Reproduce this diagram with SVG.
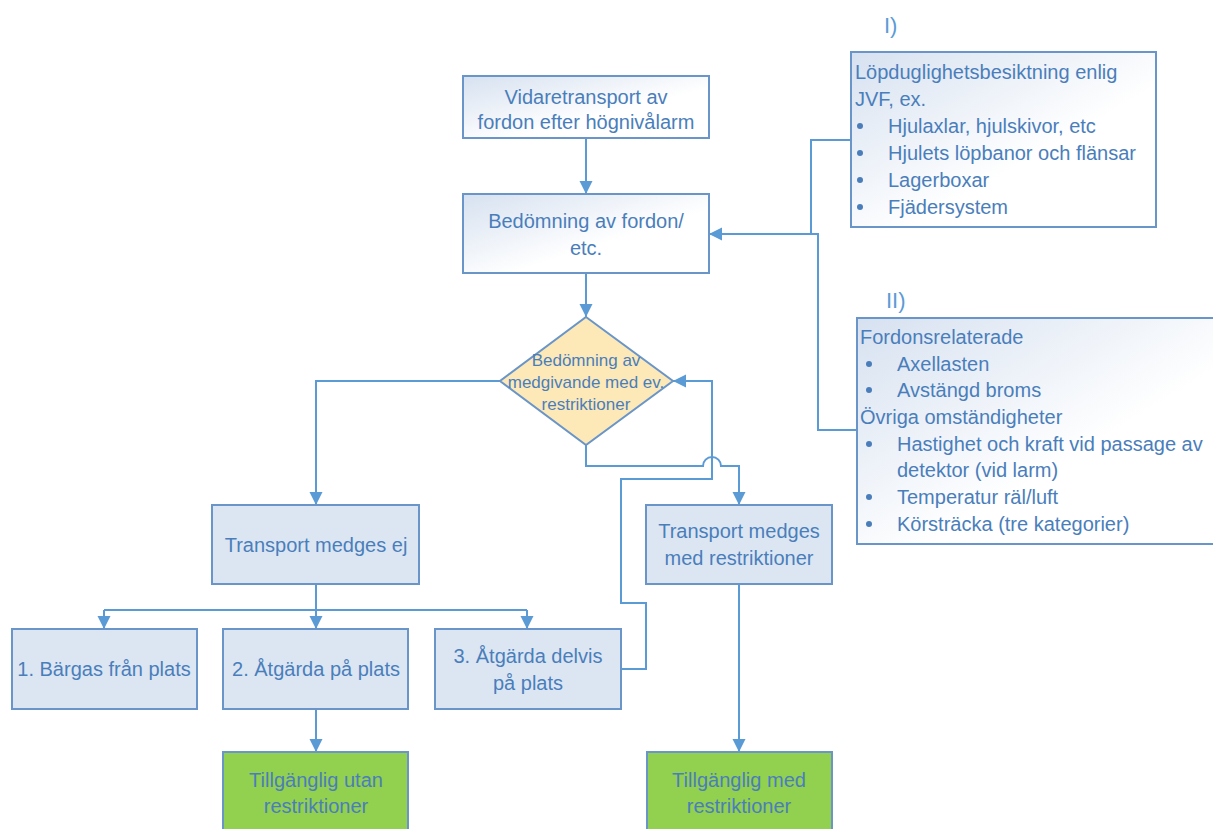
<svg xmlns="http://www.w3.org/2000/svg" width="1213" height="829" viewBox="0 0 1213 829">
<defs>
<linearGradient id="gr" x1="0" y1="0" x2="1" y2="1">
<stop offset="0" stop-color="#D6E1F0"/>
<stop offset="0.6" stop-color="#FFFFFF"/>
</linearGradient>
<marker id="ah" markerUnits="userSpaceOnUse" markerWidth="14" markerHeight="14" refX="13" refY="6.5" orient="auto">
<path d="M0,0 L13,6.5 L0,13 z" fill="#5B9BD5"/>
</marker>
<style>
.t{font-family:"Liberation Sans",Arial,sans-serif;font-size:20px;fill:#4A7EBB;text-anchor:middle}
.l{font-family:"Liberation Sans",Arial,sans-serif;font-size:20px;fill:#4A7EBB}
.d{font-family:"Liberation Sans",Arial,sans-serif;font-size:17px;fill:#4A7EBB;text-anchor:middle}
.h{font-family:"Liberation Sans",Arial,sans-serif;font-size:22px;fill:#5B9BD5}
.g{fill:url(#gr);stroke:#6A95C8;stroke-width:2}
.b{fill:#DCE6F2;stroke:#6A95C8;stroke-width:2}
.gn{fill:#92D050;stroke:#6A95C8;stroke-width:2}
.c{fill:none;stroke:#5B9BD5;stroke-width:2}
.bu{fill:#4A7EBB}
</style>
</defs>
<rect width="1213" height="829" fill="#FFFFFF"/>
<g id="connectors">
<path class="c" d="M586,138 V194" marker-end="url(#ah)"/>
<path class="c" d="M586,273 V317" marker-end="url(#ah)"/>
<path class="c" d="M851,140 H811 V234"/>
<path class="c" d="M857,430 H818 V234 H709" marker-end="url(#ah)"/>
<path class="c" d="M500,381 H316 V505" marker-end="url(#ah)"/>
<path class="c" d="M586,445 V466 H703 A9,9 0 0 1 721,466 H739 V505" marker-end="url(#ah)"/>
<path class="c" d="M621,669 H646 V603 H621 V479 H712 V381 H673" marker-end="url(#ah)"/>
<path class="c" d="M316,584 V610"/>
<path class="c" d="M104,610 H527"/>
<path class="c" d="M104,610 V629" marker-end="url(#ah)"/>
<path class="c" d="M316,610 V629" marker-end="url(#ah)"/>
<path class="c" d="M527,610 V629" marker-end="url(#ah)"/>
<path class="c" d="M316,709 V752" marker-end="url(#ah)"/>
<path class="c" d="M739,584 V752" marker-end="url(#ah)"/>
</g>
<g id="n-vidaretransport">
<rect class="g" x="463" y="76" width="246" height="62"/>
<text class="t" x="586" y="104">Vidaretransport av</text>
<text class="t" x="586" y="129">fordon efter högnivålarm</text>
</g>
<g id="n-bedomning">
<rect class="g" x="463" y="194" width="246" height="79"/>
<text class="t" x="586" y="228">Bedömning av fordon/</text>
<text class="t" x="586" y="255">etc.</text>
</g>
<g id="n-diamond">
<path d="M586,317 L673,381 L586,445 L500,381 z" fill="#FDE9B8" stroke="#6A95C8" stroke-width="2"/>
<text class="d" x="586" y="366">Bedömning av</text>
<text class="d" x="586" y="388">medgivande med ev.</text>
<text class="d" x="586" y="410">restriktioner</text>
</g>
<g id="n-medges-ej">
<rect class="b" x="212" y="505" width="207" height="79"/>
<text class="t" x="316" y="552">Transport medges ej</text>
</g>
<g id="n-medges-med">
<rect class="b" x="646" y="505" width="186" height="79"/>
<text class="t" x="739" y="538">Transport medges</text>
<text class="t" x="739" y="565">med restriktioner</text>
</g>
<g id="n-bargas">
<rect class="b" x="12" y="629" width="185" height="80"/>
<text class="t" x="104" y="676">1. Bärgas från plats</text>
</g>
<g id="n-atgarda">
<rect class="b" x="223" y="629" width="185" height="80"/>
<text class="t" x="316" y="676">2. Åtgärda på plats</text>
</g>
<g id="n-atgarda-delvis">
<rect class="b" x="435" y="629" width="186" height="80"/>
<text class="t" x="528" y="663">3. Åtgärda delvis</text>
<text class="t" x="528" y="690">på plats</text>
</g>
<g id="n-tillganglig-utan">
<rect class="gn" x="223" y="752" width="185" height="82"/>
<text class="t" x="316" y="787">Tillgänglig utan</text>
<text class="t" x="316" y="813">restriktioner</text>
</g>
<g id="n-tillganglig-med">
<rect class="gn" x="647" y="752" width="185" height="82"/>
<text class="t" x="739" y="787">Tillgänglig med</text>
<text class="t" x="739" y="813">restriktioner</text>
</g>
<g id="n-box-I">
<text class="h" x="884" y="33">I)</text>
<rect class="g" x="851" y="52" width="305" height="175"/>
<text class="l" x="855" y="79">Löpduglighetsbesiktning enlig</text>
<text class="l" x="855" y="106">JVF, ex.</text>
<circle class="bu" cx="860" cy="126" r="3"/>
<text class="l" x="888" y="133">Hjulaxlar, hjulskivor, etc</text>
<circle class="bu" cx="860" cy="153" r="3"/>
<text class="l" x="888" y="160">Hjulets löpbanor och flänsar</text>
<circle class="bu" cx="860" cy="180" r="3"/>
<text class="l" x="888" y="187">Lagerboxar</text>
<circle class="bu" cx="860" cy="207" r="3"/>
<text class="l" x="888" y="214">Fjädersystem</text>
</g>
<g id="n-box-II">
<text class="h" x="886" y="308">II)</text>
<rect class="g" x="857" y="318" width="370" height="226"/>
<text class="l" x="860" y="344">Fordonsrelaterade</text>
<circle class="bu" cx="869" cy="364" r="3"/>
<text class="l" x="897" y="371">Axellasten</text>
<circle class="bu" cx="869" cy="390" r="3"/>
<text class="l" x="897" y="397">Avstängd broms</text>
<text class="l" x="860" y="424">Övriga omständigheter</text>
<circle class="bu" cx="869" cy="444" r="3"/>
<text class="l" x="897" y="451">Hastighet och kraft vid passage av</text>
<text class="l" x="897" y="477">detektor (vid larm)</text>
<circle class="bu" cx="869" cy="497" r="3"/>
<text class="l" x="897" y="504">Temperatur räl/luft</text>
<circle class="bu" cx="869" cy="524" r="3"/>
<text class="l" x="897" y="531">Körsträcka (tre kategorier)</text>
</g>
</svg>
